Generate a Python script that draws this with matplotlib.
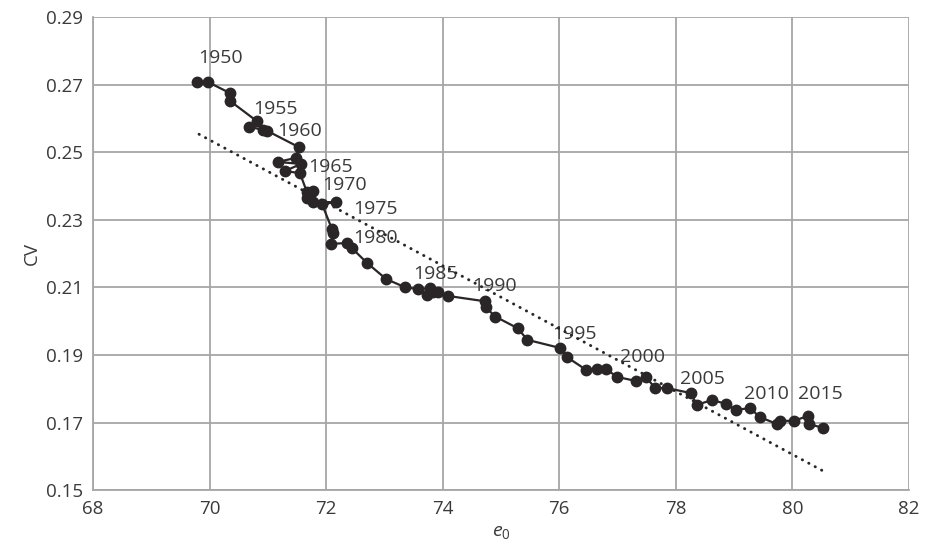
import numpy as np
import matplotlib.pyplot as plt

plt.rcParams['font.family'] = ['Open Sans', 'DejaVu Sans']
plt.rcParams['mathtext.fontset'] = 'custom'
plt.rcParams['mathtext.it'] = 'Open Sans:italic'
plt.rcParams['mathtext.rm'] = 'Open Sans'

# life expectancy (e0) and coefficient of variation
e0 = [69.78, 69.97, 70.35, 70.35, 70.81, 70.68, 70.92, 70.99,
      71.53, 71.48, 71.17, 71.57, 71.29, 71.55,
      71.67, 71.77, 71.67, 71.77, 72.17, 71.93,
      72.10, 72.12, 72.08, 72.36, 72.44, 72.70, 73.03,
      73.35, 73.58, 73.78, 73.73, 73.83, 73.92, 74.09,
      74.73, 74.74, 74.90, 75.29, 75.45, 76.01, 76.13,
      76.46, 76.65, 76.80, 76.99, 77.32, 77.49, 77.64, 77.85,
      78.26, 78.36, 78.62, 78.86, 79.03, 79.27, 79.44,
      79.73, 79.79, 80.03, 80.27, 80.28, 80.52]
cv = [0.2709, 0.2709, 0.2676, 0.2653, 0.2593, 0.2576, 0.2567, 0.2564,
      0.2516, 0.2484, 0.2472, 0.2466, 0.2445, 0.2439,
      0.2383, 0.2386, 0.2365, 0.2353, 0.2353, 0.2347,
      0.2273, 0.2261, 0.2229, 0.2232, 0.2217, 0.2173, 0.2125,
      0.2101, 0.2095, 0.2098, 0.2078, 0.2087, 0.2087, 0.2075,
      0.2059, 0.2041, 0.2014, 0.1979, 0.1945, 0.1921, 0.1894,
      0.1856, 0.1859, 0.1859, 0.1835, 0.1823, 0.1835, 0.1802, 0.1802,
      0.1787, 0.1752, 0.1767, 0.1755, 0.1737, 0.1743, 0.1716,
      0.1696, 0.1705, 0.1705, 0.1720, 0.1696, 0.1684]

# linear trend line end points
trend_x = [69.82, 80.53]
trend_y = [0.2554, 0.1556]

# year labels and where they sit
year_labels = ['1950', '1955', '1960', '1965', '1970', '1975', '1980',
               '1985', '1990', '1995', '2000', '2005', '2010', '2015']
label_x = [69.80, 70.74, 71.16, 71.69, 71.93, 72.46, 72.46,
           73.49, 74.50, 75.87, 77.04, 78.07, 79.17, 80.09]
label_y = [0.2780, 0.2630, 0.2564, 0.2457, 0.2403, 0.2333, 0.2247,
           0.2140, 0.2104, 0.1962, 0.1894, 0.1829, 0.1784, 0.1784]

fig = plt.figure(figsize=(9.27, 5.53), dpi=100)
ax = fig.add_axes([0.1003, 0.1139, 0.8803, 0.8545])

dark = '#2a2627'
grid_col = '#a6a6a6'
txt = '#3a3a3a'

for lx, ly, t in zip(label_x, label_y, year_labels):
    ax.text(lx, ly, t, ha='left', va='center', fontsize=14, color=txt, zorder=2)

ax.plot(e0, cv, color=dark, lw=1.6, marker='o', markersize=7.5, zorder=3)
ax.plot(trend_x, trend_y, color=dark, lw=2.1, linestyle=(0, (0.1, 2.4)),
        dash_capstyle='round', zorder=4)

ax.set_xlim(68, 82)
ax.set_ylim(0.15, 0.29)
ax.set_xticks(np.arange(68, 83, 2))
ax.set_yticks(np.arange(0.15, 0.2901, 0.02))
ax.set_yticklabels(['%.2f' % v for v in np.arange(0.15, 0.2901, 0.02)])
ax.grid(True, color=grid_col, lw=1.3)
ax.set_axisbelow(True)
for s in ['top', 'right']:
    ax.spines[s].set_visible(False)
for s in ['left', 'bottom']:
    ax.spines[s].set_color(grid_col)
    ax.spines[s].set_linewidth(1.3)
ax.tick_params(length=0, labelsize=13.5, colors=txt, pad=7)

ax.set_xlabel(r'$e_{\mathrm{0}}$', fontsize=14, color=txt, labelpad=4)
ax.set_ylabel('CV', fontsize=13.5, color=txt, labelpad=4)

plt.savefig('out.png', dpi=100)
